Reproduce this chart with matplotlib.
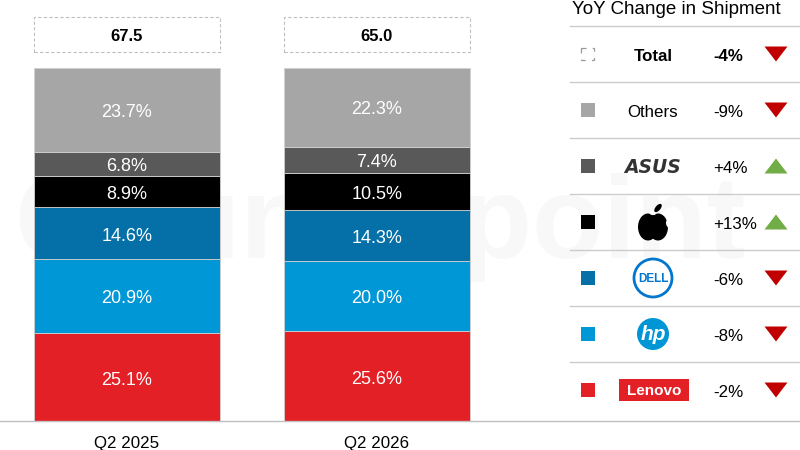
import matplotlib
matplotlib.use('Agg')
import matplotlib.pyplot as plt
from matplotlib.patches import Rectangle, Circle, Ellipse, Polygon
import numpy as np

plt.rcParams['font.family'] = ['Liberation Sans', 'DejaVu Sans']

# --- data ---
periods = ['Q2 2025', 'Q2 2026']
totals = [67.5, 65.0]
# stack order, bottom to top
brands = ['Lenovo', 'HP', 'Dell', 'Apple', 'ASUS', 'Others']
share_2025 = [25.1, 20.9, 14.6, 8.9, 6.8, 23.7]
share_2026 = [25.6, 20.0, 14.3, 10.5, 7.4, 22.3]
brand_colors = ['#e32026', '#0097d6', '#0570a8', '#000000', '#595959', '#a6a6a6']

# YoY table, top to bottom
table_names = ['Total', 'Others', 'ASUS', 'Apple', 'Dell', 'HP', 'Lenovo']
table_yoy = [-4, -9, 4, 13, -6, -8, -2]

color_of = dict(zip(brands, brand_colors))

fig = plt.figure(figsize=(8, 4.5), dpi=100)
fig.patch.set_facecolor('white')

# faint watermark behind everything
fig.text(380 / 800, 1 - 228 / 450, 'Counterpoint', ha='center', va='center',
         fontsize=84, fontweight='bold', color='#f8f8f8', zorder=-5)

# --- stacked bars ---
ax = fig.add_axes([0, 28 / 450, 540 / 800, 354 / 450])
ax.set_facecolor('none')
ax.set_xlim(-127 / 250, -127 / 250 + 540 / 250)
ax.set_ylim(0, 100)

x = np.arange(len(periods))
shares = np.array([share_2025, share_2026]).T
bottom = np.zeros(len(periods))
for name, vals in zip(brands, shares):
    ax.bar(x, vals, 0.744, bottom=bottom, color=color_of[name],
           edgecolor='#d0d0d0', linewidth=0.6)
    for xi, v, b in zip(x, vals, bottom):
        ax.text(xi, b + v / 2 - 0.8, f'{v:.1f}%', ha='center', va='center',
                color='white', fontsize=13)
    bottom += vals

# total boxes above bars
for xi, t in zip(x, totals):
    ax.add_patch(Rectangle((xi - 0.372, 104.5), 0.744, 9.9, fill=False,
                           ls=(0, (3, 2)), ec='#bfbfbf', lw=0.8, clip_on=False))
    ax.text(xi, 108.9, f'{t:.1f}', ha='center', va='center',
            fontsize=12, fontweight='bold')

ax.set_xticks(x, periods)
ax.set_yticks([])
ax.tick_params(length=0, labelsize=12.2, pad=10)
for s in ax.spines.values():
    s.set_visible(False)

# --- YoY table (pixel coords overlay) ---
lg = fig.add_axes([0, 0, 1, 1])
lg.set_xlim(0, 800)
lg.set_ylim(450, 0)
lg.axis('off')

lg.plot([0, 800], [421, 421], color='#bfbfbf', lw=1)
lg.text(676, 9, 'YoY Change in Shipment', ha='center', va='center', fontsize=13.5)
for yl in 26 + 56 * np.arange(7):
    lg.plot([570, 800], [yl, yl], color='#cccccc', lw=1)

row_y = 54 + 56 * np.arange(len(table_names))
for name, yoy, y in zip(table_names, table_yoy, row_y):
    bold = 'bold' if name == 'Total' else 'normal'
    ty = y + 2.5  # text baseline nudge
    # colour key
    if name == 'Total':
        lg.add_patch(Rectangle((581, y - 6), 13, 12, fill=False, ec='#999999',
                               lw=0.9, ls=(0, (4, 5))))
    else:
        lg.add_patch(Rectangle((581, y - 7), 14, 14, fc=color_of[name], ec='none'))

    # name / logo
    if name in ('Total', 'Others'):
        lg.text(653, ty, name, ha='center', va='center', fontsize=12.2, fontweight=bold)
    elif name == 'ASUS':
        lg.text(653, ty - 1, 'ASUS', ha='center', va='center', fontsize=13.5,
                fontweight='bold', style='italic', color='#333333',
                family='DejaVu Sans')
    elif name == 'Apple':
        lg.add_patch(Ellipse((648, y + 5), 20, 27, fc='black'))
        lg.add_patch(Ellipse((658, y + 5), 20, 27, fc='black'))
        lg.add_patch(Circle((672, y + 1), 6, fc='white', ec='none'))
        lg.add_patch(Ellipse((653, y - 9), 7, 4, fc='white', ec='none'))
        lg.add_patch(Ellipse((658, y - 14), 5, 10, angle=40, fc='black'))
    elif name == 'Dell':
        lg.add_patch(Circle((653, y), 19, fill=False, ec='#0076ce', lw=2))
        lg.text(653, y + 1, 'DELL', ha='center', va='center', fontsize=8.5,
                fontweight='bold', color='#0076ce')
    elif name == 'HP':
        lg.add_patch(Circle((653, y), 16, fc='#0096d6', ec='none'))
        lg.text(653, y + 1, 'hp', ha='center', va='center', fontsize=15,
                fontweight='bold', style='italic', color='white')
    elif name == 'Lenovo':
        lg.add_patch(Rectangle((619, y - 11), 70, 22, fc='#e32026', ec='none'))
        lg.text(654, y + 1, 'Lenovo', ha='center', va='center', fontsize=11,
                fontweight='bold', color='white')

    # YoY value + arrow
    lg.text(713, ty, f'{yoy:+d}%', ha='left', va='center', fontsize=12.2, fontweight=bold)
    if yoy < 0:
        tri = [(764.5, y - 7.5), (787.5, y - 7.5), (776, y + 7.5)]
        col = '#c00000'
    else:
        tri = [(764.5, y + 7.5), (787.5, y + 7.5), (776, y - 7.5)]
        col = '#70ad47'
    lg.add_patch(Polygon(tri, closed=True, fc=col, ec='none'))

fig.savefig('out.png', dpi=100, facecolor='white')
